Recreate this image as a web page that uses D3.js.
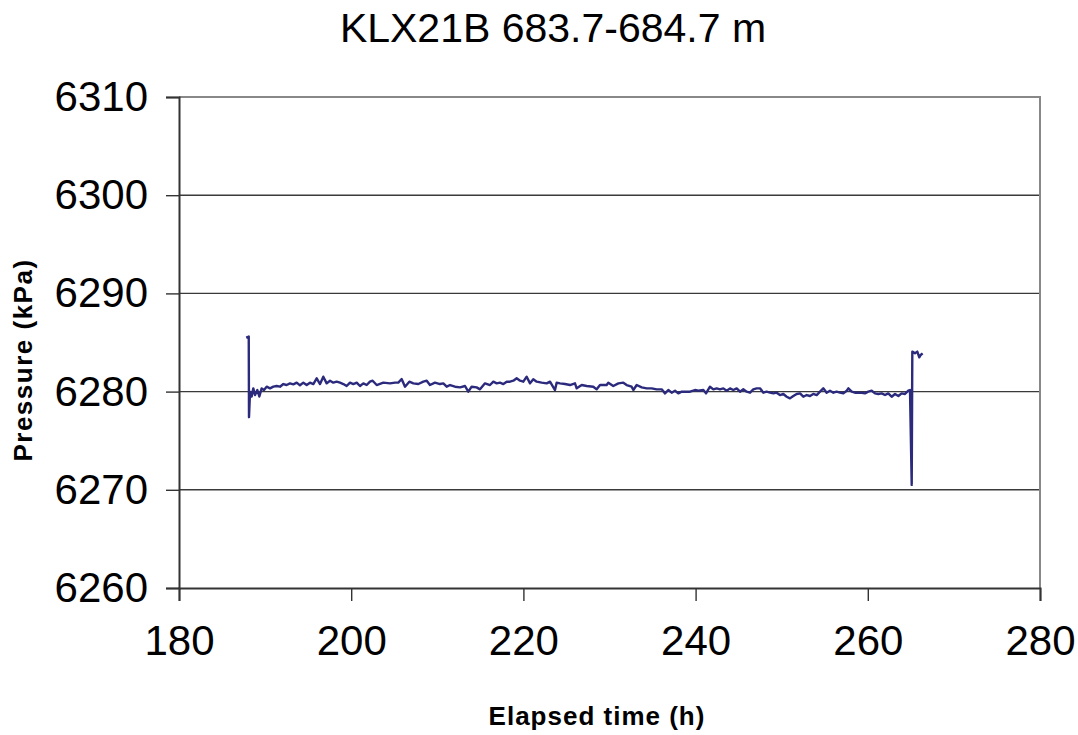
<!DOCTYPE html>
<html>
<head>
<meta charset="utf-8">
<script src="https://cdn.jsdelivr.net/npm/d3@7"></script>
<style>
  body { margin: 0; background: #fff; }
  text { font-family: "Liberation Sans", Arial, sans-serif; }
</style>
</head>
<body>
<div class="container"></div>
<script>
const WIDTH = 1078;
const HEIGHT = 735;
const LEFT = 179, RIGHT = 1040, TOP = 97, BOTTOM = 588;

var title = "KLX21B 683.7-684.7 m";
var xLabel = "Elapsed time (h)";
var yLabel = "Pressure (kPa)";
var xTicks = [180, 200, 220, 240, 260, 280];
var yTicks = [6260, 6270, 6280, 6290, 6300, 6310];

// elapsed time (h)
var times = [
  187.80, 188.10, 188.13, 188.25, 188.44, 188.63, 188.83, 189.10, 189.33, 189.60,
  189.87, 190.18, 190.57, 190.96, 191.34, 191.73, 192.12, 192.50, 192.89, 193.28,
  193.67, 194.05, 194.44, 194.83, 195.21, 195.60, 195.99, 196.38, 196.76, 197.15,
  197.54, 197.92, 198.31, 198.70, 199.09, 199.47, 199.86, 200.25, 200.64, 201.02,
  201.41, 201.80, 202.18, 202.49, 202.96, 203.73, 204.51, 205.09, 205.47, 205.86,
  206.25, 206.75, 207.22, 207.80, 208.38, 208.77, 209.15, 209.73, 210.31, 210.70,
  211.09, 211.48, 212.06, 212.64, 213.22, 213.60, 213.99, 214.57, 214.96, 215.54,
  216.12, 216.51, 216.90, 217.28, 217.67, 218.06, 218.44, 218.83, 219.22, 219.61,
  219.99, 220.38, 220.77, 221.15, 221.54, 222.12, 222.70, 223.09, 223.67, 223.86,
  224.25, 224.83, 225.41, 225.99, 226.19, 226.77, 227.35, 228.12, 228.51, 228.90,
  229.67, 229.86, 230.44, 231.03, 231.61, 231.99, 232.57, 232.77, 233.16, 233.74,
  234.32, 234.90, 235.48, 236.06, 236.45, 236.83, 237.22, 237.61, 237.99, 238.38,
  238.77, 239.35, 239.93, 240.32, 240.90, 241.21, 241.48, 241.67, 242.06, 242.45,
  242.83, 243.22, 243.61, 244.00, 244.38, 244.77, 245.16, 245.54, 245.93, 246.32,
  246.70, 247.09, 247.48, 247.87, 248.25, 248.64, 249.03, 249.41, 249.80, 250.19,
  250.58, 250.96, 251.35, 251.74, 252.13, 252.51, 252.90, 253.29, 253.67, 254.06,
  254.45, 254.83, 255.22, 255.61, 256.00, 256.38, 256.77, 257.16, 257.55, 257.74,
  258.13, 258.51, 259.09, 259.67, 260.06, 260.45, 260.84, 261.22, 261.61, 262.00,
  262.38, 262.77, 263.16, 263.55, 263.93, 264.32, 264.71, 264.90, 265.10, 265.17,
  265.48, 265.75, 265.98, 266.14, 266.37
];

// pressure (kPa)
var pressures = [
  6285.50, 6285.60, 6277.40, 6280.00, 6279.50, 6280.33, 6279.65, 6280.16, 6279.50, 6280.33,
  6280.16, 6280.50, 6280.33, 6280.50, 6280.57, 6280.50, 6280.77, 6280.67, 6280.84, 6280.74,
  6280.91, 6280.64, 6280.91, 6280.67, 6280.91, 6280.77, 6281.35, 6280.77, 6281.52, 6280.84,
  6281.11, 6280.91, 6281.01, 6280.91, 6280.77, 6280.57, 6280.91, 6280.77, 6280.91, 6280.57,
  6280.84, 6280.67, 6281.01, 6281.11, 6280.67, 6280.91, 6280.84, 6280.91, 6280.91, 6281.28,
  6280.50, 6281.01, 6280.84, 6280.77, 6281.01, 6281.11, 6280.67, 6280.91, 6280.77, 6280.84,
  6280.50, 6280.67, 6280.50, 6280.43, 6280.57, 6279.99, 6280.50, 6280.43, 6280.23, 6280.84,
  6280.67, 6281.01, 6280.84, 6280.91, 6280.77, 6281.01, 6281.01, 6281.11, 6281.35, 6281.11,
  6281.01, 6281.52, 6280.84, 6281.25, 6281.01, 6280.91, 6280.84, 6281.01, 6280.16, 6280.91,
  6280.84, 6280.77, 6280.67, 6280.84, 6280.33, 6280.67, 6280.57, 6280.50, 6280.23, 6280.67,
  6280.67, 6280.91, 6280.57, 6280.84, 6280.91, 6280.67, 6280.50, 6280.16, 6280.67, 6280.43,
  6280.33, 6280.33, 6280.23, 6280.23, 6279.82, 6280.16, 6279.89, 6280.09, 6279.82, 6279.99,
  6279.99, 6279.99, 6280.16, 6280.09, 6280.16, 6279.82, 6280.23, 6280.50, 6280.23, 6280.33,
  6280.23, 6280.33, 6280.09, 6280.33, 6280.16, 6280.33, 6279.99, 6280.23, 6279.99, 6279.89,
  6280.23, 6280.33, 6280.33, 6279.89, 6279.99, 6279.89, 6279.82, 6279.89, 6279.65, 6279.76,
  6279.48, 6279.31, 6279.55, 6279.76, 6279.82, 6279.48, 6279.65, 6279.55, 6279.76, 6279.65,
  6279.99, 6280.33, 6279.89, 6280.09, 6279.89, 6279.99, 6279.89, 6279.82, 6280.09, 6280.33,
  6279.99, 6279.89, 6279.89, 6279.82, 6279.99, 6280.09, 6279.82, 6279.76, 6279.82, 6279.65,
  6279.82, 6279.48, 6279.76, 6279.55, 6279.82, 6279.76, 6280.09, 6280.16, 6270.50, 6284.07,
  6283.90, 6284.07, 6283.49, 6283.73, 6283.90
];

var drawChart = function(){
    var svg = d3.select(".container").append("svg")
        .attr("width", WIDTH)
        .attr("height", HEIGHT);

    svg.append("rect")
        .attr("width", WIDTH)
        .attr("height", HEIGHT)
        .attr("fill", "#fff");

    var xScale = d3.scaleLinear()
        .domain([xTicks[0], xTicks[xTicks.length - 1]])
        .range([LEFT, RIGHT]);
    var yScale = d3.scaleLinear()
        .domain([yTicks[0], yTicks[yTicks.length - 1]])
        .range([BOTTOM, TOP]);

    // gridlines
    svg.append("g").selectAll("line")
        .data(yTicks.slice(1, -1))
        .join("line")
        .attr("x1", LEFT)
        .attr("x2", RIGHT)
        .attr("y1", function(d){ return yScale(d); })
        .attr("y2", function(d){ return yScale(d); })
        .attr("stroke", "#3a3a3a")
        .attr("stroke-width", 1.4);

    // top and right border
    svg.append("path")
        .attr("d", "M" + LEFT + "," + TOP + "H" + RIGHT + "V" + BOTTOM)
        .attr("fill", "none")
        .attr("stroke", "#888")
        .attr("stroke-width", 2);

    var xAxis = svg.append("g")
        .attr("transform", "translate(0," + BOTTOM + ")")
        .call(d3.axisBottom(xScale).tickValues(xTicks).tickSize(13).tickPadding(24).tickFormat(d3.format("d")));
    var yAxis = svg.append("g")
        .attr("transform", "translate(" + LEFT + ",0)")
        .call(d3.axisLeft(yScale).tickValues(yTicks).tickSize(13).tickPadding(18).tickFormat(d3.format("d")));

    [xAxis, yAxis].forEach(function(ax){
        ax.select(".domain").attr("stroke", "#333").attr("stroke-width", 2);
        ax.selectAll(".tick line").attr("stroke", "#333").attr("stroke-width", 1.4);
        ax.selectAll(".tick text")
            .attr("fill", "#000")
            .style("font-family", "'Liberation Sans', Arial, sans-serif")
            .style("font-size", "42px");
    });

    var pts = times.map(function(t, i){ return [t, pressures[i]]; });
    var line = d3.line()
        .x(function(d){ return xScale(d[0]); })
        .y(function(d){ return yScale(d[1]); });
    svg.append("path")
        .datum(pts)
        .attr("d", line)
        .attr("fill", "none")
        .attr("stroke", "#2b2a7c")
        .attr("stroke-width", 2.4)
        .attr("stroke-linejoin", "round");

    svg.append("text")
        .attr("x", 553)
        .attr("y", 42)
        .attr("text-anchor", "middle")
        .style("font-size", "41px")
        .text(title);

    svg.append("text")
        .attr("x", 597)
        .attr("y", 725)
        .attr("text-anchor", "middle")
        .style("font-size", "26px")
        .style("font-weight", "bold")
        .style("letter-spacing", "1px")
        .text(xLabel);

    svg.append("text")
        .attr("transform", "translate(32,360) rotate(-90)")
        .attr("text-anchor", "middle")
        .style("font-size", "26px")
        .style("font-weight", "bold")
        .style("letter-spacing", "1.5px")
        .text(yLabel);
}

window.onload = drawChart;
</script>
</body>
</html>
